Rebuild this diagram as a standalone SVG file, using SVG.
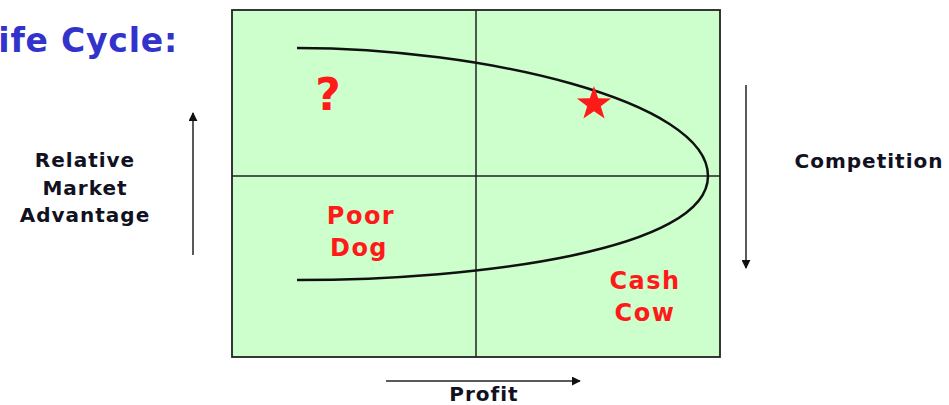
<svg xmlns="http://www.w3.org/2000/svg" width="949" height="405" viewBox="0 0 949 405">
<style>
.lbl{font-family:"DejaVu Sans",Verdana,sans-serif;font-weight:bold;font-size:20px;letter-spacing:1px;fill:#111122;text-anchor:middle}
.red{font-family:"DejaVu Sans",Verdana,sans-serif;font-weight:bold;font-size:24px;letter-spacing:1.5px;fill:#ff1a1a;text-anchor:middle}
.ax{stroke:#222;stroke-width:1.5;fill:none}
</style>
<defs>
<marker id="ah" viewBox="0 0 10 10" refX="9" refY="5" markerWidth="9" markerHeight="9" orient="auto" markerUnits="userSpaceOnUse">
<path d="M0,0 L10,5 L0,10 z" fill="#111"/>
</marker>
</defs>
<rect width="949" height="405" fill="#ffffff"/>
<g id="title"><text x="178" y="52" font-family="DejaVu Sans,Verdana,sans-serif" font-weight="bold" font-size="33" letter-spacing="0.8" fill="#3333cc" text-anchor="end">ife Cycle:</text></g>
<g id="matrix">
<rect x="232" y="10" width="488" height="347" fill="#ccffcc" stroke="#222" stroke-width="1.8"/>
<line x1="476" y1="10" x2="476" y2="357" stroke="#222" stroke-width="1.5"/>
<line x1="232" y1="176" x2="720" y2="176" stroke="#222" stroke-width="1.5"/>
</g>
<g id="curve"><path d="M297,48 C480,48 708,100 708,176 C708,250 480,280 297,280" fill="none" stroke="#111" stroke-width="2.5"/></g>
<g id="question"><text x="328" y="110" font-family="DejaVu Sans,Verdana,sans-serif" font-weight="bold" font-size="44" fill="#ff1a1a" text-anchor="middle">?</text></g>
<g id="star"><polygon points="594,86 598.2,98.2 611.1,98.4 600.8,106.2 604.6,118.6 594,111.2 583.4,118.6 587.2,106.2 576.9,98.4 589.8,98.2" fill="#ff1a1a"/></g>
<g id="poordog"><text class="red" x="361" y="224">Poor</text><text class="red" x="359" y="256">Dog</text></g>
<g id="cashcow"><text class="red" x="645" y="289">Cash</text><text class="red" x="645" y="321">Cow</text></g>
<g id="ylabel"><text class="lbl" x="85" y="167">Relative</text><text class="lbl" x="85" y="195">Market</text><text class="lbl" x="85" y="222">Advantage</text></g>
<g id="competition"><text class="lbl" x="869" y="168">Competition</text></g>
<g id="profit"><text class="lbl" x="484" y="401">Profit</text></g>
<g id="connectors">
<line class="ax" x1="193" y1="255" x2="193" y2="113" marker-end="url(#ah)"/>
<line class="ax" x1="746" y1="85" x2="746" y2="268" marker-end="url(#ah)"/>
<line class="ax" x1="386" y1="381" x2="580" y2="381" marker-end="url(#ah)"/>
</g>
</svg>
